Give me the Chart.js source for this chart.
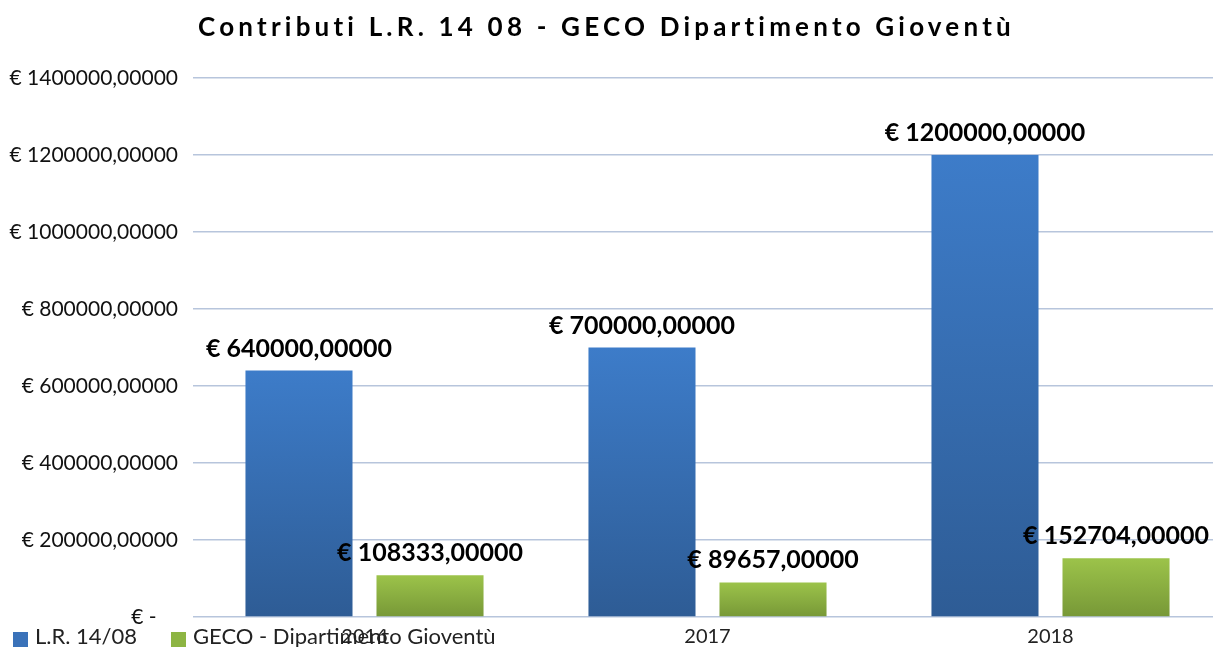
<!DOCTYPE html>
<html lang="it">
<head>
<meta charset="utf-8">
<title>Contributi L.R. 14 08 - GECO Dipartimento Gioventù</title>
<script src="https://cdn.jsdelivr.net/npm/chart.js@4"></script>
<style>
  html, body { margin: 0; padding: 0; background: #fff; overflow: hidden; }
  .wrap { position: relative; width: 1222px; height: 647px; }
  .title { position: absolute; left: 0; top: 11px; width: 1213px; text-align: center;
           font: bold 26px/30px Lato, sans-serif; letter-spacing: 4.2px; color: #000; }
  .leg { position: absolute; top: 624px; font: 22px/24px Lato, sans-serif; color: #222; white-space: nowrap; }
  .leg i { position: absolute; left: 0; top: 8px; width: 15px; height: 15px; }
  .leg span { margin-left: 22px; }
</style>
</head>
<body>
<div class="wrap">
  <canvas id="chart" width="1222" height="647"></canvas>
  <div class="title">Contributi L.R. 14 08 - GECO Dipartimento Gioventù</div>
  <div class="leg" style="left:13px"><i style="background:#3a72b9"></i><span>L.R. 14/08</span></div>
  <div class="leg" style="left:171px"><i style="background:#8db543"></i><span>GECO - Dipartimento Gioventù</span></div>
</div>
<script>
// valori
const years = ["2016", "2017", "2018"];
const lrValues = [640000, 700000, 1200000];
const gecoValues = [108333, 89657, 152704];
const yTickValues = [0, 200000, 400000, 600000, 800000, 1000000, 1200000, 1400000];

function euro(v) {
  return v === 0 ? "€ -    " : `€ ${v},00000`;
}

// sfumatura verticale per ogni barra (chiara in alto, scura in basso)
function barGradient(top, bottom) {
  return c => {
    const { chart, raw } = c;
    const y = chart.scales.y;
    if (!chart.chartArea || !y || raw == null) return bottom;
    const g = chart.ctx.createLinearGradient(0, y.getPixelForValue(raw), 0, y.getPixelForValue(0));
    g.addColorStop(0, top);
    g.addColorStop(1, bottom);
    return g;
  };
}

const valueLabels = {
  id: "valueLabels",
  afterDatasetsDraw(chart) {
    const ctx = chart.ctx;
    ctx.save();
    ctx.font = "bold 25px Lato, sans-serif";
    ctx.fillStyle = "#000";
    ctx.textAlign = "center";
    ctx.textBaseline = "alphabetic";
    chart.data.datasets.forEach((ds, i) => {
      chart.getDatasetMeta(i).data.forEach((bar, j) => {
        ctx.fillText(euro(ds.data[j]), bar.x, bar.y - 14);
      });
    });
    ctx.restore();
  }
};

new Chart(document.getElementById("chart"), {
  type: "bar",
  data: {
    labels: years,
    datasets: [
      { label: "L.R. 14/08", data: lrValues, backgroundColor: barGradient("#3d7cc9", "#2e5c95") },
      { label: "GECO - Dipartimento Gioventù", data: gecoValues, backgroundColor: barGradient("#9cc34a", "#779837") },
    ],
  },
  options: {
    responsive: false,
    animation: false,
    categoryPercentage: 0.764,
    barPercentage: 0.817,
    layout: { padding: { top: 78, right: 0, bottom: 0, left: 0 } },
    plugins: {
      legend: { display: false },
      title: { display: false },
      tooltip: { enabled: false },
    },
    scales: {
      x: {
        grid: { display: false },
        border: { display: false },
        ticks: { color: "#222", font: { family: "Lato", size: 20 }, padding: 0 },
        afterFit: s => { s.height = 30; },
      },
      y: {
        min: 0,
        max: 1400000,
        afterBuildTicks: s => { s.ticks = yTickValues.map(v => ({ value: v })); },
        grid: { color: "#b7c5dc", lineWidth: 1.5, drawTicks: false },
        border: { display: false },
        ticks: { color: "#111", font: { family: "Lato", size: 21 }, padding: 15, callback: v => euro(v) },
        afterFit: s => { s.width = 193; },
      },
    },
  },
  plugins: [valueLabels],
});
</script>
</body>
</html>
